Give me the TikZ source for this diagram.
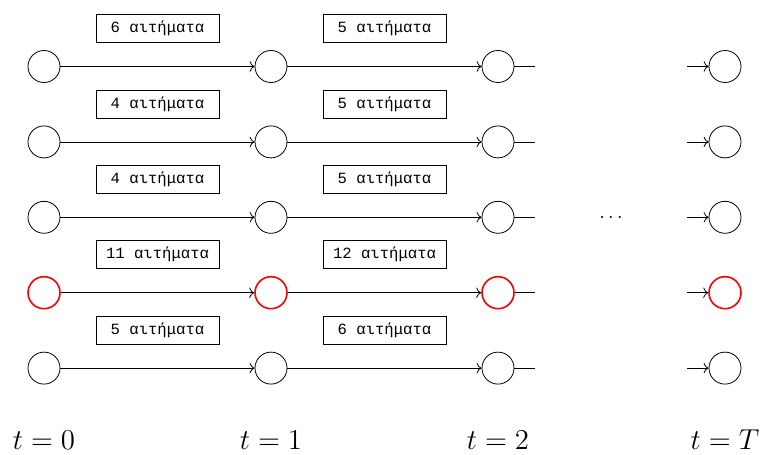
\documentclass[tikz,border=0pt]{standalone}
\usepackage{fontspec}
\newfontfamily\boxfont{Liberation Mono}
\usetikzlibrary{arrows.meta}
\begin{document}
\begin{tikzpicture}[x=0.5pt,y=-0.5pt,
  state/.style={circle,draw,minimum size=16pt,inner sep=0pt},
  hot/.style={state,draw=red,thick},
  reqbox/.style={draw,minimum width=61.5pt,minimum height=14pt,inner sep=0pt,
    font=\boxfont\fontsize{7.8}{9}\selectfont},
  flow/.style={->},
  timelbl/.style={font=\Large}]
\useasboundingbox (0,0) rectangle (761,455);
% column x positions and row y positions
\def\xa{44}\def\xb{271}\def\xc{498}\def\xd{725}
\foreach \r/\y/\la/\lb/\st in {1/66.5/6/5/state,2/141.9/4/5/state,3/217.3/4/5/state,4/292.7/11/12/hot,5/368.1/5/6/state}{
  \node[\st] (c\r a) at (\xa,\y) {};
  \node[\st] (c\r b) at (\xb,\y) {};
  \node[\st] (c\r c) at (\xc,\y) {};
  \node[\st] (c\r d) at (\xd,\y) {};
  \coordinate (o\r) at (535,\y);
  \coordinate (i\r) at (687,\y);
  \draw[flow] (c\r a) -- (c\r b);
  \draw[flow] (c\r b) -- (c\r c);
  \draw (c\r c) -- (o\r);
  \draw[flow] (i\r) -- (c\r d);
  \node[reqbox] (q\r a) at (157.5,\y-38) {\la{} αιτήματα};
  \node[reqbox] (q\r b) at (384.5,\y-38) {\lb{} αιτήματα};
}
\node[anchor=base,inner sep=0pt] (dots) at (611,218.5) {$\ldots$};
\node[timelbl] (t0) at (\xa,440) {$t=0$};
\node[timelbl] (t1) at (\xb,440) {$t=1$};
\node[timelbl] (t2) at (\xc,440) {$t=2$};
\node[timelbl] (tT) at (\xd,440) {$t=T$};
\end{tikzpicture}
\end{document}
